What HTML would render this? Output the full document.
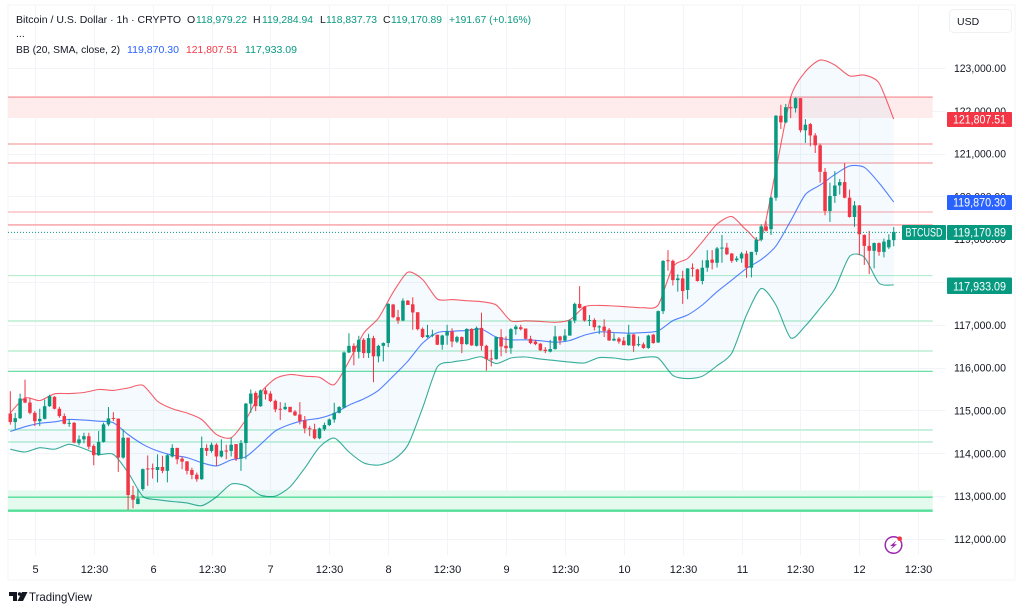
<!DOCTYPE html>
<html lang="en">
<head>
<meta charset="utf-8">
<title>Bitcoin / U.S. Dollar chart</title>
<style>
html,body{margin:0;padding:0;background:#fff;width:1024px;height:612px;overflow:hidden}
svg{display:block;font-family:"Liberation Sans",sans-serif}
</style>
</head>
<body>
<svg id="chart" width="1024" height="612" viewBox="0 0 1024 612" xmlns="http://www.w3.org/2000/svg">
  <rect x="8" y="5" width="1007" height="575" fill="#fff" stroke="#f3f4f7" stroke-width="1"/>
  <g id="grid"></g>
  <g id="levels"></g>
  <g id="bands"></g>
  <g id="candles"></g>
  <line x1="8" x2="902" y1="232.4" y2="232.4" stroke="#089981" stroke-width="1" stroke-dasharray="1 2"/>
  <g id="price-axis"></g>
  <g id="time-axis"></g>

  <g font-size="10.5">
    <text x="16" y="23" fill="#131722" textLength="165" lengthAdjust="spacingAndGlyphs">Bitcoin / U.S. Dollar · 1h · CRYPTO</text>
    <text x="187" y="23" fill="#131722">O</text>
    <text x="196" y="23" fill="#089981" textLength="51" lengthAdjust="spacingAndGlyphs">118,979.22</text>
    <text x="253" y="23" fill="#131722">H</text>
    <text x="262" y="23" fill="#089981" textLength="51" lengthAdjust="spacingAndGlyphs">119,284.94</text>
    <text x="320" y="23" fill="#131722">L</text>
    <text x="326" y="23" fill="#089981" textLength="51" lengthAdjust="spacingAndGlyphs">118,837.73</text>
    <text x="383" y="23" fill="#131722">C</text>
    <text x="391" y="23" fill="#089981" textLength="51" lengthAdjust="spacingAndGlyphs">119,170.89</text>
    <text x="449" y="23" fill="#089981" textLength="82" lengthAdjust="spacingAndGlyphs">+191.67 (+0.16%)</text>
    <text x="16" y="37" fill="#131722">...</text>
    <text x="16" y="53" fill="#131722" textLength="104" lengthAdjust="spacingAndGlyphs">BB (20, SMA, close, 2)</text>
    <text x="127" y="53" fill="#2962ff" textLength="52" lengthAdjust="spacingAndGlyphs">119,870.30</text>
    <text x="186" y="53" fill="#f23645" textLength="52" lengthAdjust="spacingAndGlyphs">121,807.51</text>
    <text x="245" y="53" fill="#089981" textLength="52" lengthAdjust="spacingAndGlyphs">117,933.09</text>
  </g>

  <g>
    <rect x="949.5" y="9.5" width="62" height="23" rx="4" fill="#fff" stroke="#eff0f3"/>
    <text x="957" y="25" font-size="10.5" fill="#131722">USD</text>
  </g>

  <g font-size="11.5" text-anchor="middle" fill="#fff">
    <g>
      <rect x="947" y="112" width="65" height="15" rx="1" fill="#f23645"/>
      <text x="979.5" y="123.7" textLength="53" lengthAdjust="spacingAndGlyphs">121,807.51</text>
    </g>
    <g>
      <rect x="947" y="195" width="65" height="15" rx="1" fill="#2962ff"/>
      <text x="979.5" y="206.7" textLength="53" lengthAdjust="spacingAndGlyphs">119,870.30</text>
    </g>
    <g>
      <rect x="902" y="225" width="44" height="15" rx="1" fill="#089981"/>
      <text x="924" y="236.7" textLength="37" lengthAdjust="spacingAndGlyphs">BTCUSD</text>
    </g>
    <g>
      <rect x="947" y="225" width="65" height="15" rx="1" fill="#089981"/>
      <text x="979.5" y="236.7" textLength="53" lengthAdjust="spacingAndGlyphs">119,170.89</text>
    </g>
    <g>
      <rect x="947" y="277.5" width="65" height="16.5" rx="1" fill="#089981"/>
      <text x="979.5" y="290.7" textLength="53" lengthAdjust="spacingAndGlyphs">117,933.09</text>
    </g>
  </g>

  <g>
    <circle cx="893.5" cy="545" r="8.3" fill="#fff" stroke="#9c27b0" stroke-width="1.5"/>
    <path d="M896.5 540.5 L890 546 L893 546 L890.5 549.5 L897 544.3 L894 544.3 Z" fill="#9c27b0"/>
    <circle cx="899.7" cy="538.7" r="2.3" fill="#f23645"/>
  </g>

  <g>
    <path d="M9 592 H17 V601 H13 V596 H9 Z" fill="#131722"/>
    <circle cx="19.6" cy="594" r="1.8" fill="#131722"/>
    <path d="M22 592 H27.5 L23 601 H17.5 Z" fill="#131722"/>
    <text x="29" y="601" font-size="12" fill="#131722" textLength="63" lengthAdjust="spacingAndGlyphs">TradingView</text>
  </g>
</svg>

<script>
const opens = [
114930,114730,114820,115280,115185,114945,114750,114805,115100,115320,
115040,114870,114700,114712,114235,114325,114400,114170,113955,114265,
114675,114825,114810,113900,114365,113025,112815,113165,113645,113650,
113610,113680,113590,113925,114125,113875,113810,113610,113500,113395,
114125,114055,114200,113925,114065,114055,114215,113875,114240,115160,
115410,115100,115470,115395,115225,115040,115030,115085,114975,114905,
114770,114585,114560,114350,114560,114660,114790,114945,115065,116355,
116510,116370,116650,116340,116690,116265,116510,116575,117475,117180,
117100,117565,117480,117295,116905,116715,116765,116770,116535,116750,
116845,116610,116715,116550,116905,116510,116930,116510,116215,116200,
116715,116510,116455,116900,116945,116915,116675,116610,116560,116420,
116375,116435,116730,116635,116750,117100,117490,117425,117100,117115,
116945,116960,116885,116635,116680,116630,116525,116775,116540,116545,
116460,116770,116590,117320,118510,118495,118045,118085,117815,118335,
118295,118025,118335,118525,118450,118785,118805,118665,118510,118550,
118665,118335,118705,118990,119300,119235,119970,121885,121730,122085,
122060,122295,121545,121690,121425,121195,120575,119660,120010,120255,
120335,119970,119520,119790,119100,118845,118730,118910,118705,118810,
118979
];
const highs = [
115450,114945,115395,115720,115295,114985,115040,115255,115370,115335,
115085,114930,114805,114730,114420,114480,114480,114210,114520,114715,
115080,114960,114815,114560,114365,113240,113165,113645,113950,113760,
113975,113940,113980,114210,114130,113925,113820,113665,113550,114390,
114210,114250,114235,114325,114200,114365,114215,114310,115175,115490,
115450,115490,115530,115450,115255,115195,115180,115085,115010,115195,
114870,114640,114690,114600,114715,114815,115180,115100,116380,116805,
116570,116745,116690,116790,116745,116535,116590,117505,117490,117350,
117620,117580,117645,117295,116940,117000,116885,116770,116770,117000,
116920,116745,116730,116920,116920,116960,117285,116535,116420,116730,
116900,116730,116925,117000,117000,116915,116745,116650,116575,116480,
116650,116975,116745,116900,117130,117520,117905,117440,117230,117155,
116990,117130,116925,116805,116715,116715,117000,116790,116730,116590,
116770,116790,117335,118510,118745,118525,118180,118265,118320,118435,
118310,118510,118745,118745,118820,119100,118915,118680,118605,118705,
118730,118705,119050,119350,119420,120000,121900,122140,122160,122330,
122310,122295,121805,121715,121480,121235,120665,120320,120590,120410,
120785,120160,119890,119800,119115,119195,118925,118925,119015,119115,
119285
];
const lows = [
114670,114560,114800,115170,114910,114635,114635,114790,115085,115025,
114830,114675,114620,114235,114185,114235,114095,113720,113940,114250,
114635,114750,113565,113875,112680,112715,112810,113125,113240,113410,
113320,113535,113320,113900,113745,113630,113505,113395,113335,113380,
113940,114015,113705,113900,113860,113925,113820,113590,113860,114945,
114985,115085,115255,115195,114960,114775,115010,114960,114870,114675,
114465,114400,114325,114330,114520,114635,114715,114930,115050,116340,
116055,116215,116225,116225,115660,116125,116145,116480,117155,117025,
117085,117465,116885,116870,116690,116690,116715,116530,116420,116535,
116480,116575,116340,116535,116510,116495,116400,115930,116030,116185,
116265,116340,116325,116770,116870,116665,116550,116525,116390,116340,
116355,116420,116535,116605,116745,117040,117380,117075,116975,116870,
116785,116715,116625,116620,116560,116525,116510,116370,116495,116440,
116440,116560,116575,117255,118265,117920,117775,117490,117600,118125,
118010,117945,118240,118295,118340,118450,118630,118450,118470,118450,
118100,118110,118630,118950,119180,119100,119900,121575,121710,121830,
121960,121495,121250,121170,121015,120320,119560,119405,119850,120045,
119955,119505,119290,118630,118400,118185,118320,118615,118575,118770,
118837
];
const closes = [
114730,114820,115280,115185,114945,114750,114805,115100,115335,115040,
114870,114690,114712,114250,114325,114400,114155,113955,114265,114675,
114815,114815,113900,114365,113025,112915,112945,113630,113630,113630,
113680,113590,113955,114125,113860,113805,113590,113495,113395,114125,
114055,114200,113925,114060,114055,114200,113875,114240,115160,115395,
115100,115470,115380,115220,115025,115025,115085,114960,114885,114750,
114580,114560,114350,114580,114660,114790,114945,115080,116355,116510,
116370,116650,116340,116690,116265,116510,116575,117490,117180,117100,
117565,117465,117290,116900,116715,116760,116770,116535,116750,116845,
116610,116715,116550,116905,116520,116930,116510,116200,116200,116715,
116495,116455,116900,116960,116900,116675,116575,116550,116405,116390,
116435,116730,116635,116750,117100,117490,117395,117100,117115,116945,
116965,116860,116635,116675,116610,116525,116775,116510,116550,116460,
116750,116575,117320,118495,118495,118045,118085,117790,118320,118310,
118025,118335,118510,118450,118785,118805,118650,118495,118550,118665,
118335,118705,118990,119300,119200,119970,121885,121730,122085,122060,
122295,121545,121675,121425,121195,120575,119660,120010,120255,120335,
119970,119520,119790,119115,118845,118730,118910,118705,118945,118985,
119171
];

const bbEveryBars = 3;
const bbUpper = [
114945,115295,115230,115390,115395,115420,115490,115470,115525,115590,
115215,115040,114940,114790,114440,114365,114790,115410,115745,115840,
115800,115775,115605,116150,116805,117155,117760,118230,118060,117605,
117590,117565,117540,117465,117095,117095,117080,117060,117115,117425,
117455,117440,117420,117400,117465,118355,118550,118940,119355,119530,
119215,119030,120620,122320,122915,123185,123070,122815,122835,122650,
121807
];
const bbBasis = [
114510,114620,114700,114735,114790,114775,114750,114715,114440,114210,
114055,113955,113900,113780,113705,113845,113920,114210,114520,114675,
114770,114820,114930,115125,115270,115470,115800,116150,116575,116820,
116850,116870,116900,116715,116650,116650,116630,116595,116635,116760,
116835,116820,116805,116820,116860,117100,117230,117465,117775,118045,
118320,118525,118840,119430,120045,120265,120510,120710,120680,120315,
119870
];
const bbLower = [
114095,114030,114130,114095,114210,114110,113975,113975,113550,112995,
112915,112875,112840,112775,112980,113280,113240,113020,113000,113215,
113655,114145,114355,114030,113775,113725,113845,114190,115060,116015,
116130,116180,116255,116095,116225,116250,116200,116165,116130,116110,
116235,116225,116185,116240,116225,115820,115745,115800,116045,116340,
117230,117850,117465,116695,116975,117390,117840,118600,118580,117975,
117933
];

const priceTicks = [123000,122000,121000,120000,119000,118000,117000,116000,115000,114000,113000,112000];
const priceTickLabels = ["123,000.00","122,000.00","121,000.00","120,000.00","119,000.00","118,000.00","117,000.00","116,000.00","115,000.00","114,000.00","113,000.00","112,000.00"];
const timeTickBars = [5,17,29,41,53,65,77,89,101,113,125,137,149,161,173,185];
const timeTickLabels = ["5","12:30","6","12:30","7","12:30","8","12:30","9","12:30","10","12:30","11","12:30","12","12:30"];

const redLevels = [122322,121225,120781,119333];
const paleRedLevels = [119636];
const greenLevels = [115915];
const paleGreenThinLevels = [118150];
const paleGreenThickLevels = [117090,116390,114545,114265];
const redZone = [122322,121832];
const greenZone = [113135,112660];
const greenZoneLine = [112975];
const greenZoneBase = [112660];

const NS = 'http://www.w3.org/2000/svg';
const CHART_LEFT = 8;
const GRID_RIGHT = 945.5;
const LEVEL_RIGHT = 932.7;
const GRID_BOTTOM = 555;
function yScale(price) { return 68 + (123000 - price) * 0.04281; }
function xScale(bar) { return 10.3 + bar * 4.908; }
function make(tag, props) {
  const el = document.createElementNS(NS, tag);
  for (const k in props) el.setAttribute(k, props[k]);
  return el;
}

const grid = document.getElementById('grid');
const levels = document.getElementById('levels');
const bands = document.getElementById('bands');
const candles = document.getElementById('candles');
const priceAxis = document.getElementById('price-axis');
const timeAxis = document.getElementById('time-axis');

priceTicks.forEach(function (p, i) {
  const y = Math.round(yScale(p)) + 0.5;
  const g = make('line', {x1: CHART_LEFT, x2: GRID_RIGHT, y1: y, y2: y, stroke: '#f3f4f7', 'stroke-width': 1});
  
  
  grid.appendChild(g);
  const t = make('text', {x: 980, y: yScale(p) + 4, 'font-size': 11, fill: '#131722', 'text-anchor': 'middle', textLength: 52, lengthAdjust: 'spacingAndGlyphs'});
  
  
  t.textContent = priceTickLabels[i];
  priceAxis.appendChild(t);
});

timeTickBars.forEach(function (b, i) {
  const x = Math.round(xScale(b)) + 0.5;
  const g = make('line', {x1: x, x2: x, y1: 5, y2: GRID_BOTTOM, stroke: '#f3f4f7', 'stroke-width': 1});
  
  
  grid.appendChild(g);
  const t = make('text', {x: x, y: 573, 'font-size': 11, fill: '#131722', 'text-anchor': 'middle'});
  
  
  t.textContent = timeTickLabels[i];
  timeAxis.appendChild(t);
});

function addZone(range, fill, name) {
  const y = yScale(range[0]);
  const r = make('rect', {x: CHART_LEFT, y: y, width: LEVEL_RIGHT - CHART_LEFT, height: yScale(range[1]) - y, fill: fill});
  
  
  levels.appendChild(r);
}
function addLevels(list, stroke, width, name) {
  list.forEach(function (p) {
    const y = yScale(p);
    const l = make('line', {x1: CHART_LEFT, x2: LEVEL_RIGHT, y1: y, y2: y, stroke: stroke, 'stroke-width': width});
    
    
    levels.appendChild(l);
  });
}
addZone(redZone, '#feeced', 'resistance-zone');
addZone(greenZone, '#e4faef', 'support-zone');
addLevels(redLevels, '#f6878d', 1.1, 'resistance-level');
addLevels(paleRedLevels, '#fcc9cb', 1.8, 'pale-resistance-level');
addLevels(greenLevels, '#58d999', 1.2, 'support-level');
addLevels(paleGreenThinLevels, '#a9ebc8', 1.1, 'pale-support-level');
addLevels(paleGreenThickLevels, '#c4f1da', 1.8, 'pale-support-level-thick');
addLevels(greenZoneLine, '#50dc96', 1.3, 'support-zone-line');
addLevels(greenZoneBase, '#54e09a', 2.4, 'support-zone-base');

function bandPoints(series) {
  return series.map(function (v, i) {
    return [xScale(i * bbEveryBars), yScale(v)];
  });
}
function smoothPath(pts) {
  let d = '';
  for (let i = 0; i < pts.length - 1; i++) {
    const p0 = pts[Math.max(0, i - 1)];
    const p1 = pts[i];
    const p2 = pts[i + 1];
    const p3 = pts[Math.min(pts.length - 1, i + 2)];
    d += ' C' + (p1[0] + (p2[0] - p0[0]) / 8).toFixed(1) + ' ' + (p1[1] + (p2[1] - p0[1]) / 8).toFixed(1) +
         ' ' + (p2[0] - (p3[0] - p1[0]) / 8).toFixed(1) + ' ' + (p2[1] - (p3[1] - p1[1]) / 8).toFixed(1) +
         ' ' + p2[0].toFixed(1) + ' ' + p2[1].toFixed(1);
  }
  return d;
}
const upperPts = bandPoints(bbUpper);
const lowerPtsReversed = bandPoints(bbLower).reverse();
const bandFill = make('path', {
  d: 'M' + upperPts[0].join(' ') + smoothPath(upperPts) + ' L' + lowerPtsReversed[0].join(' ') + smoothPath(lowerPtsReversed) + ' Z',
  fill: '#2196f3',
  'fill-opacity': 0.05
});


bands.appendChild(bandFill);

function addBandLine(series, stroke, name) {
  const pts = bandPoints(series);
  const line = make('path', {d: 'M' + pts[0].join(' ') + smoothPath(pts), fill: 'none', stroke: stroke, 'stroke-width': 1.1, 'stroke-linejoin': 'round', 'stroke-opacity': 0.8});
  
  
  bands.appendChild(line);
}
addBandLine(bbUpper, '#f23645', 'bollinger-upper-line');
addBandLine(bbBasis, '#2962ff', 'bollinger-basis-line');
addBandLine(bbLower, '#089981', 'bollinger-lower-line');

opens.forEach(function (o, i) {
  const c = closes[i];
  const x = xScale(i);
  const color = c >= o ? '#089981' : '#f23645';
  const group = make('g', {fill: color});
  
  
  const wick = make('rect', {x: x - 0.5, y: yScale(highs[i]), width: 1, height: yScale(lows[i]) - yScale(highs[i])});
  
  
  const top = yScale(Math.max(o, c));
  const body = make('rect', {x: x - 1.75, y: top, width: 3.5, height: Math.max(1, yScale(Math.min(o, c)) - top)});
  
  
  group.appendChild(wick);
  group.appendChild(body);
  candles.appendChild(group);
});
</script>
</body>
</html>
